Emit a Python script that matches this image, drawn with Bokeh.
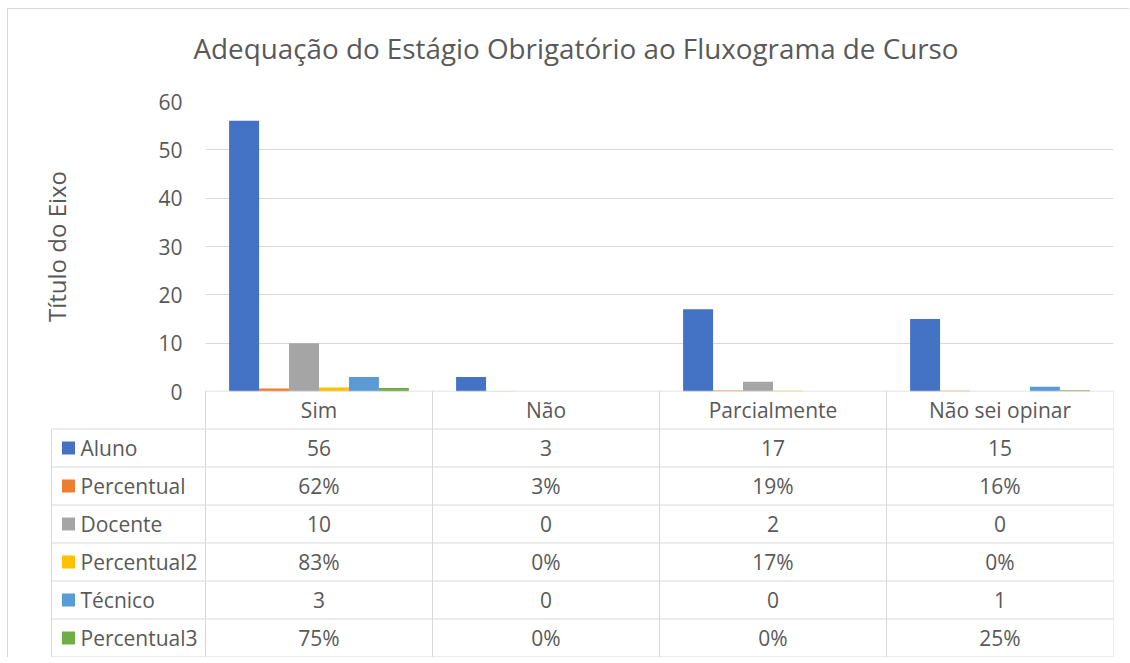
from bokeh.plotting import figure
from bokeh.models import ColumnDataSource, FactorRange, Range1d, FixedTicker, Title
from bokeh.transform import dodge
from bokeh.embed import file_html
from bokeh.resources import INLINE
from bokeh.core.properties import value

# ---------------- data ----------------
categories = ["Sim", "Não", "Parcialmente", "Não sei opinar"]
series_names = ["Aluno", "Percentual", "Docente", "Percentual2", "Técnico", "Percentual3"]
aluno = [56, 3, 17, 15]
percentual = [0.62, 0.03, 0.19, 0.16]
docente = [10, 0, 2, 0]
percentual2 = [0.83, 0.0, 0.17, 0.0]
tecnico = [3, 0, 0, 1]
percentual3 = [0.75, 0.0, 0.0, 0.25]
series_is_pct = [False, True, False, True, False, True]
colors = ["#4472C4", "#ED7D31", "#A5A5A5", "#FFC000", "#5B9BD5", "#70AD47"]
y_ticks = [0, 10, 20, 30, 40, 50, 60]
title_text = "Adequação do Estágio Obrigatório ao Fluxograma de Curso"
y_axis_title = "Título do Eixo"

series_values = [aluno, percentual, docente, percentual2, tecnico, percentual3]

FONT = "Open Sans"
TXT = "#595959"
GRID = "#D9D9D9"
W = 1122
BOTTOM_PAD = 16
ROW_H = 38

# ---------------- chart ----------------
p1 = figure(width=W, height=92 + 290 + BOTTOM_PAD, x_range=FactorRange(factors=categories),
            y_range=Range1d(0, 60), output_backend="svg", toolbar_location=None,
            tools="", x_axis_location=None, min_border_left=197, min_border_right=17,
            min_border_top=92, min_border_bottom=BOTTOM_PAD, title=title_text)
p1.title.align = "left"
p1.title.offset = -12
p1.title.standoff = 30
p1.title.text_font = FONT
p1.title.text_font_size = "27.8px"
p1.title.text_font_style = "normal"
p1.title.text_color = TXT
# empty spacer between the title and the plot area
p1.add_layout(Title(text=" ", text_font_size="1px", standoff=17), "above")
p1.outline_line_color = None
p1.styles = {"margin-left": "7px", "margin-top": "8px",
             "border-left": "1px solid #D9D9D9", "border-top": "1px solid #D9D9D9"}

p1.ygrid.ticker = FixedTicker(ticks=y_ticks)
p1.ygrid.grid_line_color = GRID
p1.ygrid.grid_line_width = 1
p1.xgrid.grid_line_color = None

ax = p1.yaxis[0]
ax.ticker = FixedTicker(ticks=y_ticks)
ax.axis_line_color = None
ax.major_tick_line_color = None
ax.minor_tick_line_color = None
ax.major_tick_in = 0
ax.major_tick_out = 0
ax.major_label_standoff = 23
ax.major_label_text_font = FONT
ax.major_label_text_font_size = "21px"
ax.major_label_text_color = TXT
ax.axis_label = y_axis_title
ax.axis_label_text_font = FONT
ax.axis_label_text_font_size = "24px"
ax.axis_label_text_font_style = "normal"
ax.axis_label_text_color = TXT
ax.axis_label_standoff = 82

data = {"cat": categories}
for i, vals in enumerate(series_values):
    data[f"s{i}"] = vals
src = ColumnDataSource(data)

bar_w = 0.132
n_s = len(series_names)
for i in range(n_s):
    off = (i - (n_s - 1) / 2) * bar_w
    p1.vbar(x=dodge("cat", off, range=p1.x_range), top=f"s{i}", width=bar_w,
            source=src, fill_color=colors[i], line_color=None)

# ---------------- data table ----------------
LABEL_COL = 0.6784
n_cat = len(categories)
n_rows = n_s + 1
p2_h = n_rows * ROW_H + 1
pad = 0.5 / ROW_H
p2 = figure(width=W, height=p2_h, x_range=Range1d(-LABEL_COL - 0.0132, n_cat),
            y_range=Range1d(n_rows + pad, -pad), output_backend="svg",
            toolbar_location=None, tools="", x_axis_location=None,
            y_axis_location=None, min_border_left=40, min_border_right=17,
            min_border_top=0, min_border_bottom=0)
p2.grid.visible = False
p2.outline_line_color = None
p2.background_fill_color = None
p2.border_fill_color = None
p2.styles = {"margin-left": "7px", "margin-top": f"-{BOTTOM_PAD}px",
             "border-left": "1px solid #D9D9D9"}

x0, y0, x1, y1 = [], [], [], []
x0.append(0); x1.append(n_cat); y0.append(0); y1.append(0)
for r in range(1, n_rows + 1):
    x0.append(-LABEL_COL); x1.append(n_cat); y0.append(r); y1.append(r)
x0.append(-LABEL_COL); x1.append(-LABEL_COL); y0.append(1); y1.append(n_rows)
for c in range(n_cat + 1):
    x0.append(c); x1.append(c); y0.append(0); y1.append(n_rows)
p2.segment(x0=x0, y0=y0, x1=x1, y1=y1, line_color=GRID, line_width=1)

p2.text(x=[i + 0.5 for i in range(n_cat)], y=[0.5] * n_cat, text=categories,
        text_align="center", text_baseline="middle", text_font=value(FONT),
        text_font_size="21px", text_color=TXT)

tx, ty, tt = [], [], []
for r, (vals, is_pct) in enumerate(zip(series_values, series_is_pct)):
    for i, v in enumerate(vals):
        tx.append(i + 0.5)
        ty.append(r + 1.5)
        tt.append(f"{round(v * 100)}%" if is_pct else f"{v}")
p2.text(x=tx, y=ty, text=tt, text_align="center", text_baseline="middle",
        text_font=value(FONT), text_font_size="21px", text_color=TXT)

key_x = -LABEL_COL + 17 / 227
lab_x = -LABEL_COL + 29 / 227
row_y = [r + 1.5 for r in range(n_s)]
p2.scatter(x=[key_x] * n_s, y=row_y, marker="square", size=13,
           fill_color=colors, line_color=None)
p2.text(x=[lab_x] * n_s, y=row_y, text=series_names, text_align="left",
        text_baseline="middle", text_font=value(FONT), text_font_size="21px",
        text_color=TXT)

open("out.html", "w").write(file_html([p1, p2], INLINE))
